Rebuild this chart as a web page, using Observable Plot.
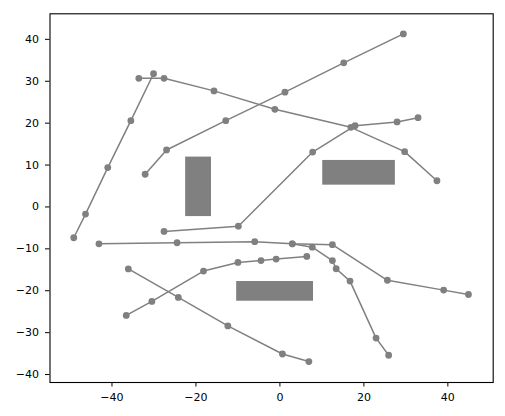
<!DOCTYPE html>
<html>
<head>
<meta charset="utf-8">
<script src="https://cdn.jsdelivr.net/npm/d3@7"></script>
<script src="https://cdn.jsdelivr.net/npm/@observablehq/plot@0.6"></script>
<style>
  html, body { margin: 0; padding: 0; background: #fff; }
  svg { display: block; font-family: "DejaVu Sans", sans-serif; }
</style>
</head>
<body>
<div id="chart"></div>
<script>
// Polyline series: [x, y]
const line1 = [[-49.1, -7.35], [-46.3, -1.7], [-41.0, 9.4], [-35.5, 20.6], [-30.1, 31.8]];
const line2 = [[-33.6, 30.7], [-27.6, 30.7], [-15.7, 27.7], [-1.2, 23.3], [16.9, 19.0], [29.7, 13.2], [37.4, 6.25]];
const line3 = [[-32.1, 7.8], [-27.0, 13.6], [-12.9, 20.6], [1.2, 27.4], [15.2, 34.4], [29.4, 41.3]];
const line4 = [[-27.6, -5.85], [-9.9, -4.6], [7.8, 13.1], [17.9, 19.4], [27.9, 20.3], [32.9, 21.3]];
const line5 = [[-43.1, -8.8], [-24.5, -8.55], [-6.0, -8.3], [2.95, -8.8], [12.5, -9.0], [25.6, -17.5], [39.0, -19.85], [44.9, -20.9]];
const line6 = [[2.95, -8.8], [7.7, -9.6], [12.5, -12.8], [13.4, -14.75], [16.7, -17.7], [22.9, -31.3], [25.9, -35.4]];
const line7 = [[-36.6, -25.9], [-30.5, -22.55], [-18.2, -15.3], [-10.0, -13.25], [-4.5, -12.8], [-0.9, -12.45], [6.4, -11.8]];
const line8 = [[-36.1, -14.8], [-24.2, -21.6], [-12.4, -28.4], [0.6, -35.1], [6.9, -36.9]];

// Rectangles
const rectX1 = [-22.45, 10.2, -10.3];
const rectX2 = [-16.3, 27.5, 8.0];
const rectY1 = [-2.3, 5.2, -22.5];
const rectY2 = [11.9, 11.1, -17.8];

// Axis ticks
const xTicks = [-40, -20, 0, 20, 40];
const yTicks = [-40, -30, -20, -10, 0, 10, 20, 30, 40];

const lines = [line1, line2, line3, line4, line5, line6, line7, line8];
const pts = lines.flatMap((l, i) => l.map(([x, y]) => ({x, y, s: i})));
const rects = rectX1.map((_, i) => ({x1: rectX1[i], x2: rectX2[i], y1: rectY1[i], y2: rectY2[i]}));
const fmt = d3.format("d");
const gray = "#808080";

const chart = Plot.plot({
  width: 505,
  height: 416,
  marginLeft: 49.5,
  marginRight: 12.3,
  marginTop: 13.3,
  marginBottom: 34,
  style: {fontFamily: "DejaVu Sans, sans-serif", fontSize: "11px", color: "black", background: "white"},
  x: {domain: [-54.76, 50.8]},
  y: {domain: [-41.9, 46.1]},
  marks: [
    Plot.rect(rects, {x1: "x1", x2: "x2", y1: "y1", y2: "y2", fill: gray}),
    Plot.line(pts, {x: "x", y: "y", z: "s", stroke: gray, strokeWidth: 1.5}),
    Plot.dot(pts, {x: "x", y: "y", fill: gray, r: 3.4}),
    Plot.frame({stroke: "black", strokeWidth: 1.1}),
    Plot.axisX({ticks: xTicks, tickFormat: fmt, tickSize: 4.5, tickPadding: 6, label: null, fontSize: 11}),
    Plot.axisY({ticks: yTicks, tickFormat: fmt, tickSize: 4.5, tickPadding: 6.5, label: null, fontSize: 11})
  ]
});
document.getElementById("chart").appendChild(chart);
</script>
</body>
</html>
